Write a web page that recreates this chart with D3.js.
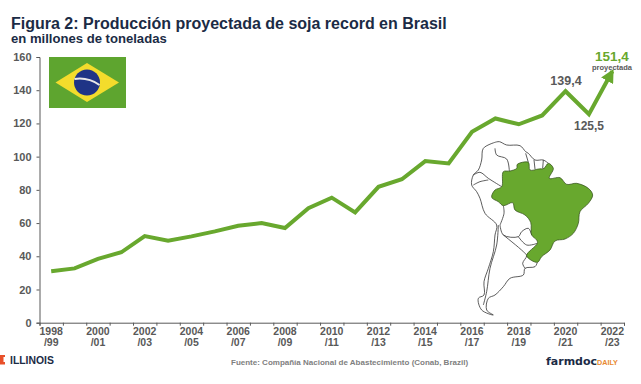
<!DOCTYPE html>
<html><head><meta charset="utf-8">
<script src="https://cdn.jsdelivr.net/npm/d3@7"></script>
<style>html,body{margin:0;background:#fff}svg{display:block;font-family:"Liberation Sans",Arial,sans-serif}</style>
</head><body><svg id="c" width="641" height="384"></svg>
<script>
const categories=["1998/99","1999/00","2000/01","2001/02","2002/03","2003/04","2004/05","2005/06","2006/07","2007/08","2008/09","2009/10","2010/11","2011/12","2012/13","2013/14","2014/15","2015/16","2016/17","2017/18","2018/19","2019/20","2020/21","2021/22","2022/23"];
const production=[31,32.7,38.4,42.4,52.2,49.4,52,55,58.4,60,57,69,75.3,66.4,81.8,86.4,97.3,95.9,115,123,119.5,124.8,139.4,125.5,151.4];
const yTicks=[0,20,40,60,80,100,120,140,160];
const brazil=[[95,183],[105,165],[125,155],[130,110],[150,108],[170,100],[172,88],[205,82],[210,105],[235,102],[252,100],[265,85],[280,100],[268,130],[300,128],[320,148],[350,145],[385,160],[398,180],[385,205],[360,230],[355,265],[340,295],[315,312],[285,318],[270,345],[245,365],[232,382],[200,362],[232,325],[230,315],[215,300],[212,262],[195,240],[165,225],[158,203],[130,212],[115,200],[97,190]];
const borders=[
 [[105,22],[70,40],[65,75],[55,105],[40,120],[35,150],[50,170],[60,190],[75,235],[110,270],[105,300],[100,350],[85,400],[72,440],[72,480],[55,490],[65,525],[100,540],[80,525],[85,490],[105,480],[130,455],[150,430],[190,420],[195,400],[225,395],[232,382]],
 [[105,22],[118,20],[140,30],[180,32],[197,50],[205,55],[225,75],[250,75],[265,85]],
 [[197,55],[205,82]],[[222,75],[225,102]],[[250,75],[248,100]],
 [[105,40],[110,60],[140,72],[148,108]],
 [[40,120],[60,112],[85,130],[125,155]],[[40,150],[60,140],[85,135]],
 [[130,212],[132,235],[120,270]],
 [[120,270],[130,300],[175,305],[185,290],[205,280],[215,300]],
 [[175,305],[200,330],[232,325]],[[130,300],[190,350],[200,362],[188,385],[195,400]],
 [[115,270],[110,330],[90,400],[80,470],[70,510]]
];
const svg=d3.select("#c");
const band=d3.scaleBand().domain(categories).range([39.5,624]);
const edge=d3.scaleLinear().domain([0,categories.length]).range([39.5,624]);
const y=d3.scaleLinear().domain([0,160]).range([322.7,57]);
const greens="#68a82e",grey="#595959",navy="#1b2b45";

// flag
const flag=svg.append("g");
flag.append("rect").attr("x",49).attr("y",57).attr("width",77).attr("height",51).attr("fill","#5ea52f");
flag.append("path").attr("d","M87 63L119 82.5L87 102L55.5 82.5Z").attr("fill","#f3dc2c");
flag.append("circle").attr("cx",87).attr("cy",82.5).attr("r",13).attr("fill","#1f3486");
flag.append("path").attr("d","M74.5 79Q88 77 99.5 85").attr("stroke","#e8e8e8").attr("stroke-width",2).attr("fill","none");

// map
const mx=d3.scaleLinear().domain([0,450]).range([460,610]);
const my=d3.scaleLinear().domain([0,555]).range([135,320]);
const ln=d3.line().x(d=>mx(d[0])).y(d=>my(d[1])).curve(d3.curveCatmullRom.alpha(.5));
const map=svg.append("g").attr("fill","none").attr("stroke","#333").attr("stroke-width",.8);
borders.forEach(b=>map.append("path").attr("d",ln(b)));
svg.append("path").attr("d",d3.line().x(d=>mx(d[0])).y(d=>my(d[1])).curve(d3.curveCatmullRomClosed.alpha(.5))(brazil)).attr("fill",greens).attr("stroke","#2f4a18").attr("stroke-width",.7);

// axes
const ya=svg.append("g").attr("transform","translate(39.5,0)").call(d3.axisLeft(y).tickValues(yTicks).tickSize(3).tickPadding(5));
ya.selectAll("text").attr("font-size",11).attr("font-weight","bold").attr("fill",grey);
const xa=svg.append("g").attr("transform","translate(0,322.7)").call(d3.axisBottom(edge).tickValues(d3.range(0,categories.length+1)).tickSize(3).tickFormat(""));
svg.selectAll(".domain,.tick line").attr("stroke","#595959").attr("stroke-width",1);
const lab=svg.append("g").attr("font-size",10.5).attr("font-weight","bold").attr("fill",grey).attr("text-anchor","middle");
categories.forEach((c,i)=>{ if(i%2) return;
  const [a,b]=c.split("/"); const cx=band(c)+band.bandwidth()/2;
  lab.append("text").attr("x",cx).attr("y",335).text(a);
  lab.append("text").attr("x",cx).attr("y",346).text("/"+b);
});

// line
svg.append("defs").append("marker").attr("id","ah").attr("viewBox","0 0 10 10").attr("refX",8).attr("refY",5).attr("markerWidth",3.4).attr("markerHeight",3.4).attr("orient","auto").attr("markerUnits","strokeWidth")
 .append("path").attr("d","M0 0L10 5L0 10Z").attr("fill",greens);
svg.append("path").attr("fill","none").attr("stroke",greens).attr("stroke-width",4).attr("stroke-linejoin","miter").attr("marker-end","url(#ah)")
 .attr("d",d3.line().x((d,i)=>band(categories[i])+band.bandwidth()/2).y(d=>y(d))(production));

// text
svg.append("text").attr("x",11).attr("y",28.5).attr("font-size",16).attr("font-weight","bold").attr("fill",navy).text("Figura 2: Producción proyectada de soja record en Brasil");
svg.append("text").attr("x",11).attr("y",43).attr("font-size",13.1).attr("font-weight","bold").attr("fill",navy).text("en millones de toneladas");
const note=(x,yy,fs,fill,t)=>svg.append("text").attr("x",x).attr("y",yy).attr("font-size",fs).attr("font-weight","bold").attr("fill",fill).attr("text-anchor","middle").text(t);
note(566,85,12.5,grey,"139,4");
note(589,130,12,grey,"125,5");
note(612,60.5,13.5,greens,"151,4");
note(612,70,7.5,grey,"proyectada");
svg.append("text").attr("x",231).attr("y",365).attr("font-size",8).attr("fill","#808080").attr("font-weight","bold").text("Fuente: Compañía Nacional de Abastecimiento (Conab, Brazil)");
// logos
svg.append("path").attr("d","M0 355H5V357H3.5V362H5V364.5H0Z").attr("fill","#e8502a");
svg.append("text").attr("x",10).attr("y",363.5).attr("font-size",10.4).attr("font-weight","bold").attr("fill",navy).text("ILLINOIS");
svg.append("text").attr("x",546).attr("y",365).attr("font-size",11).attr("font-weight","bold").attr("fill",navy).attr("font-family","'DejaVu Sans'").text("farmdoc");
svg.append("text").attr("x",597).attr("y",365).attr("font-size",7.2).attr("font-weight","bold").attr("fill","#e8882e").text("DAILY");
</script></body></html>
